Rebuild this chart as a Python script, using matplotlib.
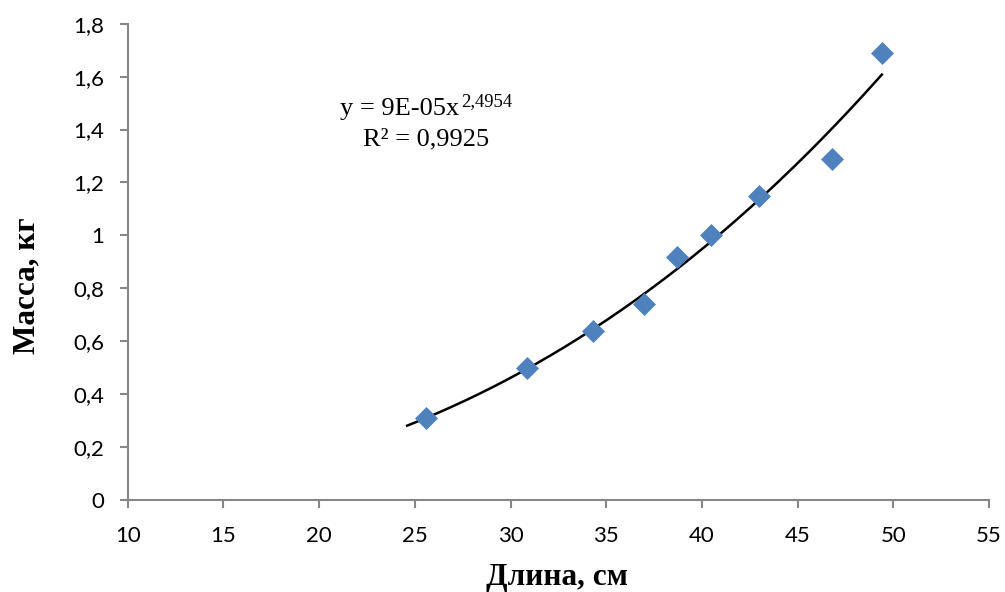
import numpy as np
import matplotlib
matplotlib.use("Agg")
import matplotlib.pyplot as plt

# Data
length_cm = [25.6, 30.85, 34.3, 37.0, 38.7, 40.5, 43.0, 46.8, 49.4]
mass_kg = [0.31, 0.50, 0.64, 0.74, 0.92, 1.00, 1.15, 1.29, 1.69]
x_ticks = [10, 15, 20, 25, 30, 35, 40, 45, 50, 55]
y_ticks = [0, 0.2, 0.4, 0.6, 0.8, 1.0, 1.2, 1.4, 1.6, 1.8]
y_tick_labels = ["0", "0,2", "0,4", "0,6", "0,8", "1", "1,2", "1,4", "1,6", "1,8"]
eq_main = "y = 9E-05x"
eq_exp = "2,4954"
r2_text = "R² = 0,9925"
x_label = "Длина, см"
y_label = "Масса, кг"

W, H = 1005, 592
fig = plt.figure(figsize=(W / 100, H / 100), dpi=100)
ax = fig.add_axes([127.7 / W, 1 - 500 / H, (989 - 127.7) / W, (500 - 23.7) / H])

# Power trendline fitted to the data (log-log least squares), backward forecast 1
xa = np.array(length_cm)
ya = np.array(mass_kg)
b, loga = np.polyfit(np.log(xa), np.log(ya), 1)
xt = np.linspace(xa.min() - 1, xa.max(), 200)
ax.plot(xt, np.exp(loga) * xt ** b, color="black", lw=1.8, zorder=2)

ax.plot(length_cm, mass_kg, linestyle="none", marker="D", ms=11.5,
        color="#4F81BD", markeredgecolor="#4F81BD", markeredgewidth=0.5, zorder=3)

ax.set_xlim(10, 55)
ax.set_ylim(0, 1.8)
ax.set_xticks(x_ticks)
ax.set_yticks(y_ticks)
ax.set_yticklabels(y_tick_labels)

grey = "#878787"
for s in ["top", "right"]:
    ax.spines[s].set_visible(False)
for s in ["left", "bottom"]:
    ax.spines[s].set_color(grey)
    ax.spines[s].set_linewidth(1.5)
ax.tick_params(axis="both", direction="out", length=6, width=1.5, color=grey,
               labelsize=16, labelcolor="black")
for lab in ax.get_xticklabels() + ax.get_yticklabels():
    lab.set_fontfamily("Lato")
ax.tick_params(axis="x", pad=13)
ax.tick_params(axis="y", pad=11)

fig.text(557 / W, 1 - 577 / H, x_label, ha="center", va="center",
         fontsize=22.5, fontweight="bold", family="Liberation Serif")
fig.text(27 / W, 1 - 286 / H, y_label, ha="center", va="center", rotation=90,
         fontsize=22.5, fontweight="bold", family="Liberation Serif")

fig.text(340 / W, 1 - 115 / H, eq_main, ha="left", va="baseline",
         fontsize=19, family="Liberation Serif")
fig.text(461 / W, 1 - 106 / H, eq_exp, ha="left", va="baseline",
         fontsize=13.4, family="Liberation Serif")
fig.text(426 / W, 1 - 145 / H, r2_text, ha="center", va="baseline",
         fontsize=19, family="Liberation Serif")

fig.savefig("out.png", dpi=100)
